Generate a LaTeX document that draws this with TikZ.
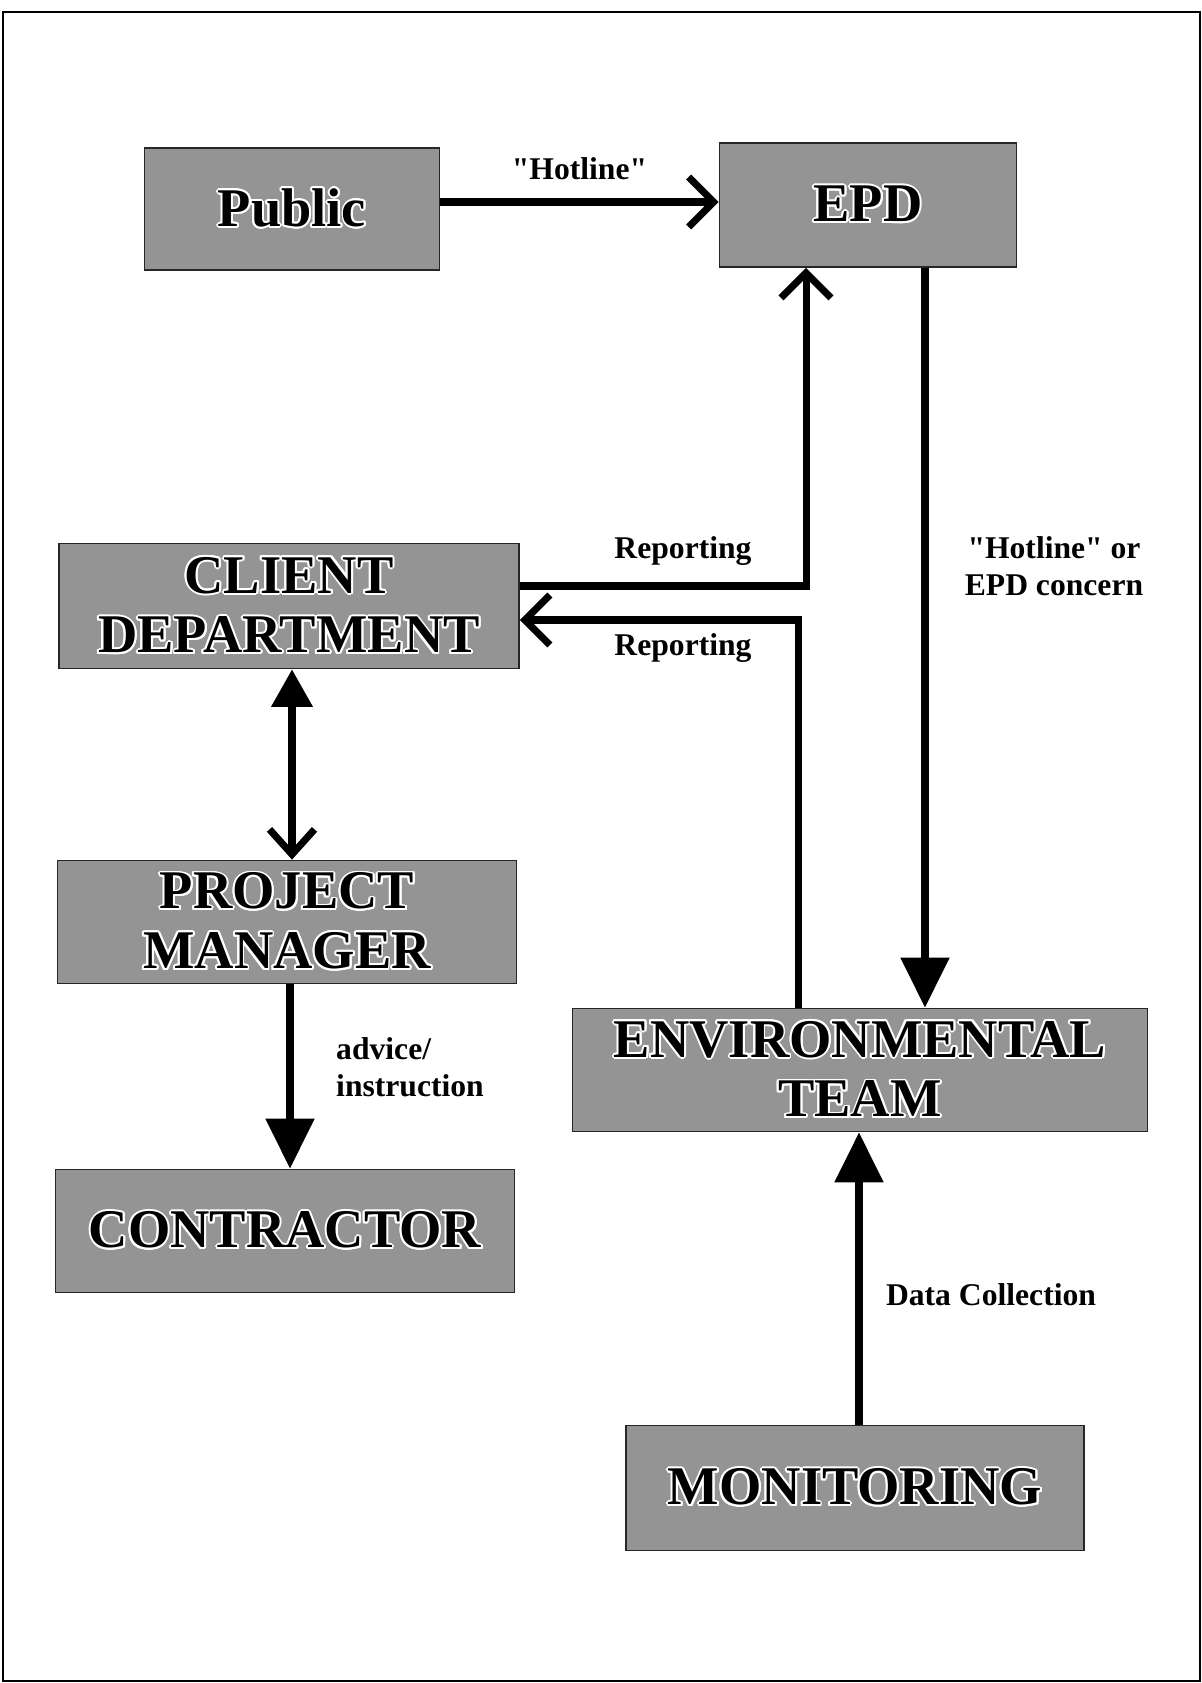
\documentclass[tikz,border=0pt]{standalone}
\usepackage{fontspec}
\setmainfont{Liberation Serif}
\usepackage[copies]{contour}
\contourlength{1.1pt}
\usetikzlibrary{arrows.meta,positioning,calc}

\begin{document}
\begin{tikzpicture}[x=0.02cm,y=-0.02cm,
	unit/.style={draw=black!85, line width=1pt, fill=black!42, align=center,
		font=\fontsize{31}{34}\selectfont\bfseries, inner sep=0pt},
	lbl/.style={font=\fontsize{18}{21}\selectfont\bfseries, align=center},
	flow/.style={line width=4pt},
	open/.style={flow, -{Straight Barb[length=0.5cm, width=1cm]}},
	solid/.style={flow, -{Triangle[length=1cm, width=0.95cm]}}]
	\useasboundingbox (0,0) rectangle (1202,1683);
	\draw[line width=1.5pt] (3,12) rectangle (1200,1681);
	% boxes
	\node[unit, minimum width=5.9cm, minimum height=2.44cm] (public) at (292,209) {\contour{white}{Public}};
	\node[unit, minimum width=5.94cm, minimum height=2.48cm] (epd) at (868,205) {\contour{white}{EPD}};
	\node[unit, minimum width=9.2cm, minimum height=2.5cm] (client) at (289,606) {\contour{white}{CLIENT}\\\contour{white}{DEPARTMENT}};
	\node[unit, minimum width=9.18cm, minimum height=2.46cm] (pm) at (287,922) {\contour{white}{PROJECT}\\\contour{white}{MANAGER}};
	\node[unit, minimum width=9.18cm, minimum height=2.46cm] (contractor) at (285,1231) {\contour{white}{CONTRACTOR}};
	\node[unit, minimum width=11.5cm, minimum height=2.46cm] (envteam) at (860,1070) {\contour{white}{ENVIRONMENTAL}\\\contour{white}{TEAM}};
	\node[unit, minimum width=9.16cm, minimum height=2.5cm] (monitoring) at (855,1488) {\contour{white}{MONITORING}};
	% connectors
	\draw[open] ([yshift=0.14cm]public.east) -- ([yshift=0.14cm]public.east -| epd.west)
		node[lbl, midway, above=0.25cm] {\textquotedbl Hotline\textquotedbl};
	\draw[open] ([yshift=0.4cm]client.east) -| ([xshift=-1.24cm]epd.south);
	\draw[open] ([xshift=-1.24cm]envteam.north) |- ([yshift=-0.28cm]client.east);
	\draw[solid] ([xshift=1.14cm]epd.south) -- ([xshift=1.14cm]epd.south |- envteam.north);
	\draw[flow, {Triangle[length=0.75cm, width=0.8cm]}-{Straight Barb[length=0.5cm, width=0.9cm]}] ([xshift=0.06cm]client.south) -- ([xshift=0.06cm]client.south |- pm.north);
	\draw[solid] ([xshift=0.06cm]pm.south) -- ([xshift=0.06cm]pm.south |- contractor.north);
	\draw[solid] ([xshift=0.08cm]monitoring.north) -- ([xshift=0.08cm]monitoring.north |- envteam.south);
	% labels
	\node[lbl] (rep1) at (683,551) {Reporting};
	\node[lbl] (rep2) at (683,648) {Reporting};
	\node[lbl] (concern) at (1054,566) {\textquotedbl Hotline\textquotedbl{} or\\EPD concern};
	\node[lbl, align=left, anchor=west] (advice) at (330,1067) {advice/\\instruction};
	\node[lbl] (datacoll) at (991,1295) {Data Collection};
\end{tikzpicture}
\end{document}
